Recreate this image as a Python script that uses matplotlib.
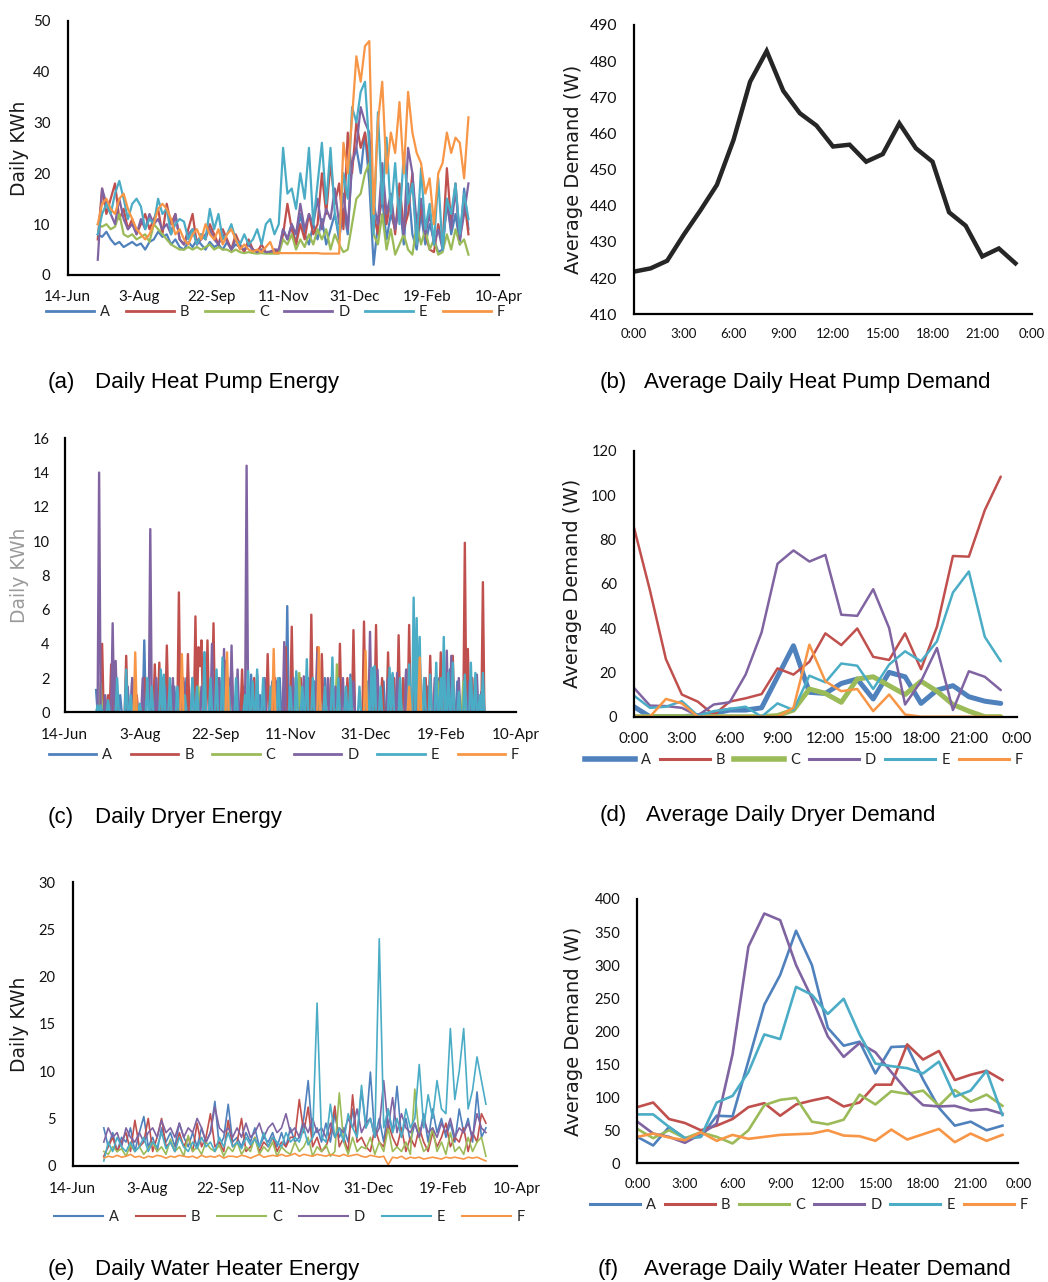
import numpy as np
import matplotlib
matplotlib.use("Agg")
import matplotlib.pyplot as plt
from matplotlib.lines import Line2D

W, H = 1048, 1282
DPI = 100

# ---------------- data ----------------
series_names = ["A", "B", "C", "D", "E", "F"]
colors = ["#4F81BD", "#C0504D", "#9BBB59", "#8064A2", "#4BACC6", "#F79646"]

date_ticks = [0, 50, 100, 150, 200, 250, 300]          # days after 14-Jun
date_labels = ["14-Jun", "3-Aug", "22-Sep", "11-Nov", "31-Dec", "19-Feb", "10-Apr"]
hour_ticks = [0, 3, 6, 9, 12, 15, 18, 21, 24]
hour_labels = ["0:00", "3:00", "6:00", "9:00", "12:00", "15:00", "18:00", "21:00", "0:00"]
hours = list(range(24))

# sample days (every 3rd day, days after 14-Jun) for panels (a) and (e)
sample_days = list(range(21, 280, 3))

# (a) Daily heat pump energy, kWh
hp_A = [8, 7.5, 8.5, 7, 6, 6.5, 5.5, 6, 6.5, 5.8,
        6.2, 5, 6.5, 7, 8.5, 7.5, 8, 6, 7, 5.5,
        5, 6.5, 5.5, 7, 6, 5, 6.5, 5.5, 6, 5,
        6.5, 5, 6, 5.5, 4.8, 6, 5, 4.6, 5, 4.5,
        4.5, 4.6, 4.4, 9, 7, 10, 6, 12, 8, 6,
        10, 7, 11, 6, 9, 12, 7, 13, 8, 22,
        25, 20, 28, 18, 2, 10, 15, 7, 12, 9,
        15, 6, 18, 8, 5, 12, 6, 10, 7, 4.5,
        5, 15, 8, 12, 6, 17, 9]
hp_B = [7, 17, 12, 15, 18, 11, 13, 9, 11, 8,
        10, 12, 9, 11, 13, 8, 14, 10, 12, 7,
        6, 9, 12, 6, 8, 7, 10, 8, 6, 9,
        7, 5, 8, 6, 4.5, 7, 5, 4.5, 6, 4.5,
        4.5, 5, 4.6, 8, 14, 9, 6, 10, 7, 12,
        8, 10, 20, 12, 22, 14, 18, 9, 28, 20,
        30, 25, 28, 22, 12, 8, 20, 10, 15, 8,
        18, 9, 12, 20, 6, 14, 8, 5, 4.5, 10,
        6, 21, 10, 18, 7, 15, 8]
hp_C = [10, 9.5, 10, 9, 9.5, 12, 8, 7.5, 8, 7,
        7.5, 8, 6.5, 10, 9, 8, 7, 6, 5.5, 5,
        5, 5.5, 5, 5.5, 5, 5.5, 6, 5, 5.5, 5,
        5, 4.5, 5, 4.5, 4.3, 4.5, 4.3, 4.2, 4.3, 4.2,
        4.2, 4.2, 4.2, 7, 6, 8, 5, 7, 5.5, 8,
        6, 9, 7, 9, 5, 8, 6, 4.5, 5, 10,
        15, 16, 20, 22, 8, 6, 12, 5, 9, 4,
        6, 8, 5, 4, 10, 6, 9, 5, 7, 4,
        4.5, 8, 5, 9, 6, 7, 4]
hp_D = [3, 17, 14, 12, 10, 15, 11, 9, 10, 8,
        11, 9, 12, 10, 11, 9, 10, 8, 12, 7,
        6, 8, 9, 6, 7, 8, 9, 7, 6, 8,
        6.5, 5, 7, 5.5, 5, 6, 5, 4.5, 5, 4.5,
        4.6, 5, 5, 9, 7, 10, 8, 14, 9, 12,
        10, 15, 9, 13, 11, 17, 10, 16, 9, 22,
        25, 33, 30, 28, 14, 10, 22, 12, 16, 9,
        14, 8, 25, 20, 10, 15, 8, 12, 6, 9,
        5, 14, 9, 17, 7, 12, 18]
hp_E = [8, 12, 14, 12, 16, 18.5, 15, 11, 14, 15,
        13.5, 9, 11, 10, 15, 12, 13, 8, 10, 11,
        10.5, 7, 9, 6, 8, 7, 13, 9, 12, 7,
        8, 10, 7, 6, 8, 6, 7, 9, 6, 10,
        11, 8, 10, 25, 16, 17, 13, 20, 15, 25,
        10, 18, 26, 14, 25, 12, 8, 20, 15, 33,
        30, 36, 38, 25, 8, 32, 14, 27, 12, 22,
        10, 24, 14, 18, 6, 21, 9, 14, 6, 19,
        5, 15, 12, 18, 8, 16, 11]
hp_F = [10, 14, 15, 13, 12, 15, 16, 13, 11, 9,
        8, 7, 8, 10, 13, 14, 13, 11, 8, 9,
        7, 6, 8, 9, 7, 10, 8, 7, 9, 6,
        8, 9, 7, 5, 6, 5, 4.6, 5, 4.5, 5.5,
        6.5, 4.3, 4.3, 4.3, 4.3, 4.3, 4.3, 4.3, 4.3, 4.3,
        4.3, 4.3, 4.2, 4.2, 4.2, 4.2, 4.2, 26, 20, 31,
        43, 38, 45, 46, 12, 30, 38, 20, 28, 24,
        34, 20, 36, 28, 24, 22, 16, 19, 10, 20,
        22, 28, 24, 27, 26, 19, 31]

# (b) Average daily heat pump demand, W
hp_demand = [421.8, 422.7, 424.8, 432, 438.7, 445.8, 458.2, 474.3, 482.8, 471.8,
             465.6, 462.2, 456.4, 456.9, 452.2, 454.3, 462.8, 455.9, 452.2, 438.2,
             434.5, 426, 428.2, 424.1]

# (c) Daily dryer energy, kWh: (day after 14-Jun, value); other days are 0
dryer_days_range = (21, 281)
dry_A = [(21, 1.3), (28, 0.5), (37, 1), (45, 2), (53, 4.2), (59, 1.5), (65, 2), (73, 1.5),
         (81, 2), (93, 3.5), (101, 1.5), (109, 2), (119, 1.5), (124, 2.2), (130, 1), (138, 1.8),
         (143, 2), (148, 6.2), (154, 1.5), (162, 2), (166, 1.8), (173, 2), (182, 1.5), (190, 2.2),
         (199, 1.5), (205, 2.6), (212, 1.8), (218, 2.2), (227, 2.4), (233, 2), (241, 1.5),
         (249, 2), (256, 2.5), (261, 1.8), (268, 2), (273, 1.5), (277, 1.2)]
dry_B = [(25, 4), (29, 1), (31, 2.8), (41, 3.3), (48, 1), (53, 2), (60, 2.8), (63, 2.9),
         (68, 3.9), (71, 1.5), (76, 7.0), (79, 2), (82, 3.4), (87, 5.6), (89, 3.8), (90, 2.7),
         (91, 4.2), (93, 3.2), (95, 4.2), (99, 5.2), (102, 2), (107, 3), (111, 3), (118, 2.5),
         (126, 2), (135, 3.4), (140, 2), (147, 3.8), (151, 5.0), (157, 2), (160, 1.8),
         (164, 5.7), (168, 3.8), (171, 3.4), (177, 2), (183, 4.0), (188, 2), (192, 4.8),
         (199, 5.3), (203, 2.5), (207, 5.1), (211, 2), (215, 3.5), (219, 2), (222, 4.5),
         (225, 2), (229, 5.1), (232, 2.5), (236, 3.3), (240, 2), (243, 3.3), (247, 2),
         (250, 3.5), (253, 1.5), (258, 3.3), (262, 1), (266, 9.9), (268, 3.7), (271, 2),
         (278, 7.6)]
dry_C = [(24, 1.7), (46, 1), (89, 1.5), (154, 2.3), (156, 2.3), (181, 2.8), (223, 1.2),
         (248, 1.8), (265, 1.8), (273, 1)]
dry_D = [(23, 14.0), (27, 1), (32, 5.2), (34, 3), (42, 1.5), (45, 2), (52, 2), (57, 10.7),
         (61, 2), (67, 1.5), (72, 2), (79, 1.8), (85, 2), (91, 1.5), (98, 4.0), (103, 2),
         (106, 3.7), (111, 3.9), (115, 2.5), (121, 14.4), (128, 2.2), (133, 2), (141, 1.8),
         (146, 4.1), (152, 2), (159, 2.1), (168, 3.5), (175, 2), (180, 1.5), (185, 2),
         (192, 1.8), (203, 4.7), (208, 2.5), (215, 2), (221, 2.3), (227, 2.5), (239, 2),
         (246, 2), (254, 3.6), (257, 3.3), (262, 2), (269, 1.8), (274, 2.2), (278, 1)]
dry_E = [(22, 0.4), (24, 0.4), (29, 0.7), (35, 2), (41, 2.5), (44, 1), (50, 0.5), (55, 2),
         (58, 1.5), (64, 2.5), (66, 2.2), (70, 2), (75, 1.5), (80, 1), (85, 2), (88, 1.5),
         (93, 3.5), (97, 2), (101, 2.5), (105, 3.2), (109, 1.5), (114, 2), (120, 1),
         (122, 2.4), (125, 1.8), (128, 2.5), (132, 2), (137, 1.5), (142, 2), (150, 1.5),
         (154, 2.4), (158, 1.5), (161, 3.1), (165, 2), (169, 2.3), (173, 1.5), (178, 3.2),
         (182, 2), (187, 1.5), (190, 2), (196, 1.5), (201, 1.8), (204, 2.6), (206, 2.7),
         (210, 1.5), (216, 2.6), (218, 2.3), (223, 2), (229, 2.8), (232, 6.7), (234, 5.5),
         (236, 4.4), (239, 2), (243, 2.2), (247, 2.9), (250, 2), (252, 4.4), (255, 2.3),
         (258, 2.9), (262, 1.2), (266, 2.2), (270, 2.9), (273, 2.3), (276, 1), (278, 2.3)]
dry_F = [(47, 3.5), (78, 3.4), (108, 3.5), (139, 3.7), (169, 3.8), (200, 3.6), (229, 1.5),
         (236, 3.2)]

# (d) Average daily dryer demand, W
dd_A = [4.5, 0, 0, 0, 0.5, 1.5, 3, 3, 4, 18, 32, 11, 10.5, 15, 17, 8, 20, 18, 6, 12, 14, 9, 7, 6]
dd_B = [85.3, 57, 26, 10, 6.8, 0.8, 6.8, 8.3, 10.2, 21.8, 19, 24.8, 37.6, 32.3, 39.8, 27, 25.6,
        37.6, 21.4, 40.6, 72.5, 72.2, 93.2, 108.3]
dd_C = [0, 0, 0, 0, 0, 0, 0, 0, 0, 0.5, 3, 12.5, 10.5, 6.5, 17, 18, 14, 10, 16, 11.5, 5.5, 2.5, 0, 0]
dd_D = [13, 5, 4.8, 4, 0.5, 5.5, 6.5, 19, 38, 69, 75, 70, 73, 46, 45.5, 57.5, 40, 5.5, 16, 31,
        3, 20.5, 18, 12]
dd_E = [9.5, 4, 4.5, 7, 0.5, 2.5, 3.5, 4.5, 0, 6, 3, 18.5, 15.5, 24, 23, 12.5, 23.5, 29.5, 25,
        34, 56, 65.5, 36, 25]
dd_F = [0, 0, 8, 6, 0, 0, 0, 0, 0, 0, 4, 32.5, 16, 11.5, 12.5, 2.5, 10, 1, 0, 0, 0, 0, 0, 0]

# (e) Daily water heater energy, kWh
wh_A = [4, 2, 3.5, 1.5, 3, 2.5, 4, 1.5, 3.5, 5.2,
        2, 3, 1.5, 4, 2.5, 3.5, 2, 4.5, 3, 2,
        3.5, 2, 4, 2.5, 3.5, 6.8, 2, 3, 6.5, 2.5,
        3, 2, 3.5, 2.5, 4, 2, 3, 2.5, 3.5, 2,
        3.5, 2, 4, 2.5, 3, 5, 9, 3, 4, 2.5,
        4.5, 2.5, 5.5, 3, 4, 2.5, 6, 3, 8, 4,
        9.9, 3, 5, 2.5, 6, 3.5, 8.4, 3, 5, 2.5,
        4.5, 3, 5.5, 2.5, 6, 3.5, 5, 3, 4.5, 2.5,
        6, 3.5, 5, 2.5, 7.8, 3, 4]
wh_B = [1, 2, 3, 1.5, 2.5, 3.5, 1.5, 4.8, 2, 2.5,
        5, 1.5, 3, 5, 2, 2.5, 1.5, 3.5, 2, 3,
        1.5, 4.5, 2, 3, 5.5, 2, 2.5, 1.5, 4.8, 2,
        2.5, 5, 1.5, 2, 3, 1.5, 2.5, 2, 3, 1.5,
        2.5, 2, 3, 3, 7, 3.5, 6.2, 2, 3, 1.5,
        2, 3.5, 6.3, 2, 3, 1.5, 7.5, 2.5, 3, 2,
        1.5, 4, 2.5, 2, 4.5, 3, 2, 4, 1.5, 3,
        2, 4, 2.5, 1.5, 3.5, 2, 3, 4.5, 2, 3,
        2.5, 4, 1.5, 3.5, 2.5, 5.5, 4.5]
wh_C = [1.5, 1.2, 2, 1.5, 1.8, 1, 2.2, 1.5, 2, 1.2,
        1.8, 2.5, 1.5, 2, 1.2, 2.8, 1.5, 2, 1, 3.2,
        1.5, 2, 1.2, 2.5, 1.8, 1.5, 2.2, 1, 2, 1.5,
        2.5, 1.2, 2, 1.5, 3, 1.2, 2, 1.5, 2.5, 1,
        2, 1.5, 1.2, 2.5, 1.5, 2, 3, 1, 2, 1.5,
        2.2, 1, 1.5, 7.7, 2.5, 1.2, 3, 1.5, 2, 1.8,
        3, 1.2, 2.5, 1.5, 4, 1.5, 2, 1.5, 2.5, 1.2,
        8.1, 3, 1.5, 2, 4, 1.5, 2.5, 1.2, 3.5, 1.5,
        2, 1.2, 3, 1.5, 2.5, 3, 1]
wh_D = [2.5, 4, 3, 3.5, 2, 4, 3, 2.5, 3.5, 2.5,
        3.5, 4, 3, 4.8, 3.5, 4, 3, 4.5, 3, 4,
        3.5, 5, 4, 2.5, 3.5, 6.2, 4, 3.5, 4, 3,
        4, 3, 4.5, 3, 3.5, 4.5, 3, 4, 4.5, 3.5,
        4, 5.5, 3.5, 4, 3, 4.5, 3.5, 5, 3.5, 4,
        3, 4.5, 3, 4, 3.5, 5, 4, 6, 3.5, 4.5,
        5, 3, 4, 9, 4, 7.2, 3.5, 5.5, 4, 3.5,
        4.5, 3, 5, 3.5, 4, 3, 4.5, 3.5, 5, 3,
        4, 3.5, 4.5, 3, 5.5, 4, 3.5]
wh_E = [0.5, 2.5, 1.5, 3, 2, 1.5, 2.5, 1.5, 2, 3,
        1.5, 2.5, 2, 3.5, 1.8, 2.5, 1.5, 3, 2, 1.5,
        2.5, 1.8, 3, 2, 2.5, 1.5, 3, 2, 3.5, 2,
        2.5, 1.8, 3, 2.2, 2.8, 2, 3.5, 2, 3, 2.5,
        2, 3.5, 2.5, 3, 2.5, 4, 2.2, 3, 17.2, 3,
        2.5, 6.5, 3, 4, 2.5, 5.5, 4, 3, 8.5, 4,
        5, 3, 24, 4, 6, 3.5, 5, 3, 6, 4,
        5, 10.7, 4, 7.5, 5, 9, 6, 5.5, 14.5, 7,
        10, 14.5, 6, 8, 11.5, 9, 6.5]
wh_F = [0.8, 1, 0.9, 1.1, 0.9, 1, 1.2, 0.9, 1, 0.8,
        1, 0.9, 1.1, 1, 0.8, 1, 0.9, 1.1, 1, 0.9,
        1, 0.8, 1.1, 0.9, 1, 0.9, 1.1, 0.8, 1, 1,
        0.9, 1.1, 1, 0.8, 1, 1.2, 0.9, 1, 1.1, 1,
        1.2, 1, 1.1, 1.3, 1, 1.2, 1.1, 1, 1.2, 1.1,
        1, 1.2, 1.1, 1, 1.2, 1, 1.1, 1.2, 1, 0.9,
        1.1, 1, 0.9, 1, 0.1, 0.9, 0.8, 1, 0.7, 0.9,
        0.8, 0.9, 0.7, 0.8, 0.9, 0.8, 0.7, 0.9, 0.8, 0.9,
        0.8, 0.7, 0.9, 0.8, 0.9, 0.7, 0.5]

# (f) Average daily water heater demand, W
wd_A = [40, 27, 55, 38, 40, 72, 71, 155, 240, 285, 352, 300, 205, 178, 184, 136, 176, 177, 127,
        84, 57, 63, 50, 57]
wd_B = [85, 92, 67, 61, 50, 57, 67, 85, 91, 72, 89, 95, 100, 86, 92, 119, 119, 180, 157, 170,
        126, 134, 140, 126]
wd_C = [52, 38, 50, 38, 47, 40, 30, 50, 88, 96, 99, 63, 59, 66, 104, 89, 109, 105, 110, 87, 111,
        93, 104, 87]
wd_D = [63, 45, 40, 31, 44, 60, 165, 328, 378, 368, 300, 250, 192, 161, 182, 168, 138, 110, 88,
        86, 87, 80, 82, 75]
wd_E = [74, 74, 55, 38, 40, 92, 102, 138, 195, 188, 267, 255, 226, 249, 195, 151, 147, 144, 136,
        154, 101, 110, 140, 73]
wd_F = [40, 45, 39, 35, 47, 34, 43, 37, 40, 43, 44, 45, 50, 42, 41, 34, 51, 36, 44, 52, 32, 45,
        34, 43]

captions = [("(a)", "Daily Heat Pump Energy"), ("(b)", "Average Daily Heat Pump Demand"),
            ("(c)", "Daily Dryer Energy"), ("(d)", "Average Daily Dryer Demand"),
            ("(e)", "Daily Water Heater Energy"), ("(f)", "Average Daily Water Heater Demand")]

# ---------------- drawing ----------------
TICK_FONT = "Lato"
LABEL_FONT = "DejaVu Sans"
CAP_FONT = "Liberation Sans"

fig = plt.figure(figsize=(W / DPI, H / DPI), dpi=DPI)


def make_ax(left, right, top, bottom):
    ax = fig.add_axes([left / W, 1 - bottom / H, (right - left) / W, (bottom - top) / H])
    for s in ("top", "right"):
        ax.spines[s].set_visible(False)
    for s in ("left", "bottom"):
        ax.spines[s].set_linewidth(1.6)
        ax.spines[s].set_color("black")
    ax.tick_params(length=0)
    return ax


def style_ticks(ax, xsize, ysize, xpad_px, ypad_px):
    for lab in ax.get_xticklabels():
        lab.set_fontfamily(TICK_FONT)
        lab.set_fontsize(xsize)
    for lab in ax.get_yticklabels():
        lab.set_fontfamily(TICK_FONT)
        lab.set_fontsize(ysize)
    ax.tick_params(axis="x", pad=xpad_px * 72 / DPI, colors="#111111")
    ax.tick_params(axis="y", pad=ypad_px * 72 / DPI, colors="#111111")


def set_ylabel(ax, text, right_px, left_px, width_px, size, color="#1a1a1a"):
    ax.set_ylabel(text, fontfamily=LABEL_FONT, fontsize=size, color=color)
    ax.yaxis.set_label_coords((right_px - left_px) / width_px, 0.5)


def add_legend(ax, handles, x_px, y_px, pitch_px, line_px, fs=10.5):
    fs_px = fs * DPI / 72
    text_w = 0.62 * fs_px
    gap = 6
    leg = ax.legend(handles=handles, labels=series_names, loc="center left",
                    bbox_to_anchor=(x_px / W, 1 - y_px / H), bbox_transform=fig.transFigure,
                    ncol=6, frameon=False, borderpad=0, borderaxespad=0,
                    handlelength=line_px / fs_px, handletextpad=gap / fs_px,
                    columnspacing=(pitch_px - line_px - gap - text_w) / fs_px,
                    prop={"family": TICK_FONT, "size": fs})
    for t in leg.get_texts():
        t.set_color("#222222")
    return leg


def caption(x1, x2, y, lab, txt):
    fig.text(x1 / W, 1 - y / H, lab, fontfamily=CAP_FONT, fontsize=16, va="center", ha="left")
    fig.text(x2 / W, 1 - y / H, txt, fontfamily=CAP_FONT, fontsize=16, va="center", ha="left")


def date_axis(ax, ylim, yticks):
    ax.set_xlim(0, 300)
    ax.set_xticks(date_ticks)
    ax.set_xticklabels(date_labels)
    ax.set_ylim(*ylim)
    ax.set_yticks(yticks)


def hour_axis(ax, ylim, yticks):
    ax.set_xlim(0, 24)
    ax.set_xticks(hour_ticks)
    ax.set_xticklabels(hour_labels)
    ax.set_ylim(*ylim)
    ax.set_yticks(yticks)


# (a)
L, R, T, B = 67.6, 498.6, 20.7, 275
axa = make_ax(L, R, T, B)
hp_series = [hp_A, hp_B, hp_C, hp_D, hp_E, hp_F]
for vals, c in zip(hp_series, colors):
    axa.plot(sample_days, vals, color=c, lw=1.6, solid_joinstyle="round")
date_axis(axa, (0, 50), list(range(0, 51, 10)))
style_ticks(axa, 11, 10.8, 15, 17)
set_ylabel(axa, "Daily KWh", 28.7, L, R - L, 13.5)
add_legend(axa, [Line2D([], [], color=c, lw=2) for c in colors], 46.3, 312, 78.6, 48)
caption(48, 95, 382, *captions[0])

# (b)
L, R, T, B = 634, 1032, 25, 314.3
axb = make_ax(L, R, T, B)
axb.plot(hours, hp_demand, color="#262626", lw=3.2, solid_joinstyle="miter")
hour_axis(axb, (410, 490), list(range(410, 491, 10)))
style_ticks(axb, 9.5, 11.3, 14, 17)
set_ylabel(axb, "Average Demand (W)", 583, L, R - L, 14)
caption(600, 644, 382, *captions[1])

# (c)
L, R, T, B = 64.5, 516, 438.3, 712.3
axc = make_ax(L, R, T, B)
d0, d1 = dryer_days_range
dry_days = np.arange(d0, d1 + 1)
for spikes, c in zip([dry_A, dry_B, dry_C, dry_D, dry_E, dry_F], colors):
    arr = np.zeros(len(dry_days))
    for d, v in spikes:
        arr[d - d0] = v
    axc.plot(dry_days, arr, color=c, lw=1.7, solid_joinstyle="round")
date_axis(axc, (0, 16), list(range(0, 17, 2)))
style_ticks(axc, 11, 10.5, 16, 15)
set_ylabel(axc, "Daily KWh", 28.7, L, R - L, 13.5, color="#9a9a9a")
add_legend(axc, [Line2D([], [], color=c, lw=2) for c in colors], 49, 755, 81.0, 47.3)
caption(48, 95, 818, *captions[2])

# (d)
L, R, T, B = 634, 1016.7, 450.7, 716.7
axd = make_ax(L, R, T, B)
dd_series = [dd_A, dd_B, dd_C, dd_D, dd_E, dd_F]
dd_lw = [3.6, 1.8, 3.6, 1.8, 1.8, 1.8]
for vals, c, lw in zip(dd_series, colors, dd_lw):
    axd.plot(hours, vals, color=c, lw=lw, solid_joinstyle="round", solid_capstyle="round")
hour_axis(axd, (0, 120), list(range(0, 121, 20)))
style_ticks(axd, 10.9, 10.6, 15, 17)
set_ylabel(axd, "Average Demand (W)", 582, L, R - L, 14)
add_legend(axd, [Line2D([], [], color=c, lw=lw + 0.4) for c, lw in zip(colors, dd_lw)],
           585, 760, 74, 50)
caption(600, 646, 816, *captions[3])

# (e)
L, R, T, B = 72.7, 517, 882, 1165.7
axe = make_ax(L, R, T, B)
wh_series = [wh_A, wh_B, wh_C, wh_D, wh_E, wh_F]
for vals, c in zip(wh_series, colors):
    axe.plot(sample_days, vals, color=c, lw=1.2, solid_joinstyle="round")
date_axis(axe, (0, 30), list(range(0, 31, 5)))
style_ticks(axe, 11, 10.5, 16, 17)
set_ylabel(axe, "Daily KWh", 28.7, L, R - L, 13.5)
add_legend(axe, [Line2D([], [], color=c, lw=1.5) for c in colors], 54, 1216.7, 80.8, 49)
caption(48, 95, 1270, *captions[4])

# (f)
L, R, T, B = 637.3, 1018.3, 899, 1163.3
axf = make_ax(L, R, T, B)
wd_series = [wd_A, wd_B, wd_C, wd_D, wd_E, wd_F]
for vals, c in zip(wd_series, colors):
    axf.plot(hours, vals, color=c, lw=1.9, solid_joinstyle="round")
hour_axis(axf, (0, 400), list(range(0, 401, 50)))
style_ticks(axf, 9.5, 10.6, 15, 17)
set_ylabel(axf, "Average Demand (W)", 583, L, R - L, 14)
add_legend(axf, [Line2D([], [], color=c, lw=2.2) for c in colors], 590, 1205, 74, 50)
caption(598, 644, 1270, *captions[5])

fig.savefig("out.png", dpi=DPI)
